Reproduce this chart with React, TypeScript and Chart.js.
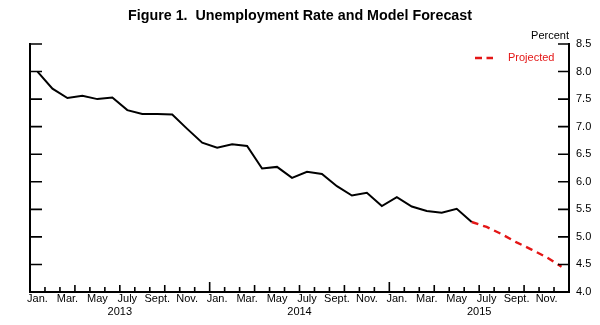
import React, { useEffect, useRef } from 'react';
import { Chart, registerables } from 'chart.js';

Chart.register(...registerables);

const FONT = "'Liberation Sans', Arial, Helvetica, sans-serif";
const RED = 'rgb(228,22,22)';

const monthNames = ['Jan.', 'Feb.', 'Mar.', 'Apr.', 'May', 'June', 'July', 'Aug.', 'Sept.', 'Oct.', 'Nov.', 'Dec.'];
const years = ['2013', '2014', '2015'];
const categories = years.flatMap((y) => monthNames.map((m) => `${m} ${y}`));

const actual = [
  8.0, 7.69, 7.52, 7.56, 7.5, 7.53, 7.3, 7.23, 7.23, 7.22, 6.96, 6.71,
  6.62, 6.68, 6.65, 6.24, 6.27, 6.07, 6.18, 6.14, 5.92, 5.75, 5.8, 5.56,
  5.72, 5.55, 5.47, 5.44, 5.51, 5.27,
];
const projected = [
  null, null, null, null, null, null, null, null, null, null, null, null,
  null, null, null, null, null, null, null, null, null, null, null, null,
  null, null, null, null, null, 5.27, 5.18, 5.05, 4.9, 4.77, 4.63, 4.46,
];
const yTickValues = [4.0, 4.5, 5.0, 5.5, 6.0, 6.5, 7.0, 7.5, 8.0, 8.5];

const titleText = 'Figure 1.  Unemployment Rate and Model Forecast';
const unitText = 'Percent';
const legendText = 'Projected';

const decorPlugin = {
  id: 'decor',
  afterDraw(chart: any) {
    const { ctx, chartArea } = chart;
    const { left, right, top, bottom } = chartArea;
    const x = chart.scales.x;
    const y = chart.scales.y;
    ctx.save();
    ctx.strokeStyle = '#000';
    ctx.lineWidth = 1.6;
    ctx.beginPath();
    y.ticks.forEach((t: any) => {
      const py = y.getPixelForValue(t.value);
      ctx.moveTo(left, py);
      ctx.lineTo(left + 12, py);
      ctx.moveTo(right - 11, py);
      ctx.lineTo(right, py);
    });
    for (let i = 1; i < categories.length; i++) {
      const px = (x.getPixelForValue(i - 1) + x.getPixelForValue(i)) / 2;
      const len = i % 12 === 0 ? 10 : i % 3 === 0 ? 7 : 5;
      ctx.moveTo(px, bottom);
      ctx.lineTo(px, bottom - len);
    }
    ctx.stroke();

    ctx.font = `11px ${FONT}`;
    ctx.fillStyle = '#000';
    ctx.textAlign = 'right';
    ctx.textBaseline = 'middle';
    ctx.fillText(unitText, right, top - 8.5);

    // legend
    const ly = top + 14;
    ctx.strokeStyle = RED;
    ctx.lineWidth = 2.4;
    ctx.setLineDash([7, 4.5]);
    ctx.beginPath();
    ctx.moveTo(right - 94, ly);
    ctx.lineTo(right - 76, ly);
    ctx.stroke();
    ctx.setLineDash([]);
    ctx.fillStyle = RED;
    ctx.textAlign = 'left';
    ctx.fillText(legendText, right - 61, ly);
    ctx.restore();
  },
};

export default function App() {
  const ref = useRef<HTMLCanvasElement>(null);
  useEffect(() => {
    Chart.defaults.font.family = FONT;
    Chart.defaults.color = '#000';
    const chart = new Chart(ref.current as HTMLCanvasElement, {
      type: 'line',
      data: {
        labels: categories,
        datasets: [
          {
            label: 'Actual',
            data: actual,
            borderColor: '#000',
            borderWidth: 2,
            pointRadius: 0,
            tension: 0,
            yAxisID: 'y',
            xAxisID: 'x',
          },
          {
            label: legendText,
            data: projected as any,
            borderColor: RED,
            borderWidth: 2.4,
            borderDash: [7, 5],
            pointRadius: 0,
            tension: 0,
            spanGaps: false,
            yAxisID: 'y',
            xAxisID: 'x',
          },
        ],
      },
      options: {
        responsive: false,
        animation: false,
        layout: { padding: 0 },
        plugins: {
          legend: { display: false },
          tooltip: { enabled: false },
          title: {
            display: true,
            text: titleText,
            color: '#000',
            font: { family: FONT, size: 14.3, weight: 'bold', lineHeight: 1.2 },
            padding: { top: 7, bottom: 19.84 },
          },
        },
        scales: {
          x: {
            type: 'category',
            position: 'bottom',
            offset: true,
            weight: 0,
            grid: { display: false, drawTicks: false },
            border: { display: true, color: '#000', width: 2 },
            ticks: {
              autoSkip: false,
              maxRotation: 0,
              padding: 0,
              font: { size: 11, family: FONT },
              color: '#000',
              callback: (_v: any, i: number) => (i % 2 === 0 ? monthNames[i % 12] : ''),
            },
            afterFit: (s: any) => {
              s.height = 13;
            },
          },
          x2: {
            type: 'category',
            position: 'bottom',
            labels: years,
            offset: true,
            weight: 1,
            grid: { display: false, drawTicks: false },
            border: { display: false },
            ticks: { padding: 0, font: { size: 11, family: FONT }, color: '#000', maxRotation: 0 },
            afterFit: (s: any) => {
              s.height = 20;
            },
          },
          y: {
            position: 'left',
            min: 4,
            max: 8.5,
            grid: { display: false, drawTicks: false },
            border: { display: true, color: '#000', width: 2 },
            ticks: { display: false },
            afterBuildTicks: (s: any) => {
              s.ticks = yTickValues.map((v) => ({ value: v }));
            },
            afterFit: (s: any) => {
              s.width = 30;
            },
          },
          y2: {
            position: 'right',
            min: 4,
            max: 8.5,
            grid: { display: false, drawTicks: false },
            border: { display: true, color: '#000', width: 2 },
            ticks: {
              padding: 7,
              font: { size: 11, family: FONT },
              color: '#000',
              callback: (v: any) => Number(v).toFixed(1),
            },
            afterBuildTicks: (s: any) => {
              s.ticks = yTickValues.map((v) => ({ value: v }));
            },
            afterFit: (s: any) => {
              s.width = 31;
            },
          },
        },
      },
      plugins: [decorPlugin],
    });
    return () => chart.destroy();
  }, []);
  return (
    <div style={{ position: 'absolute', left: 0, top: 0, width: 600, height: 325 }}>
      <canvas ref={ref} width={600} height={325} />
    </div>
  );
}
